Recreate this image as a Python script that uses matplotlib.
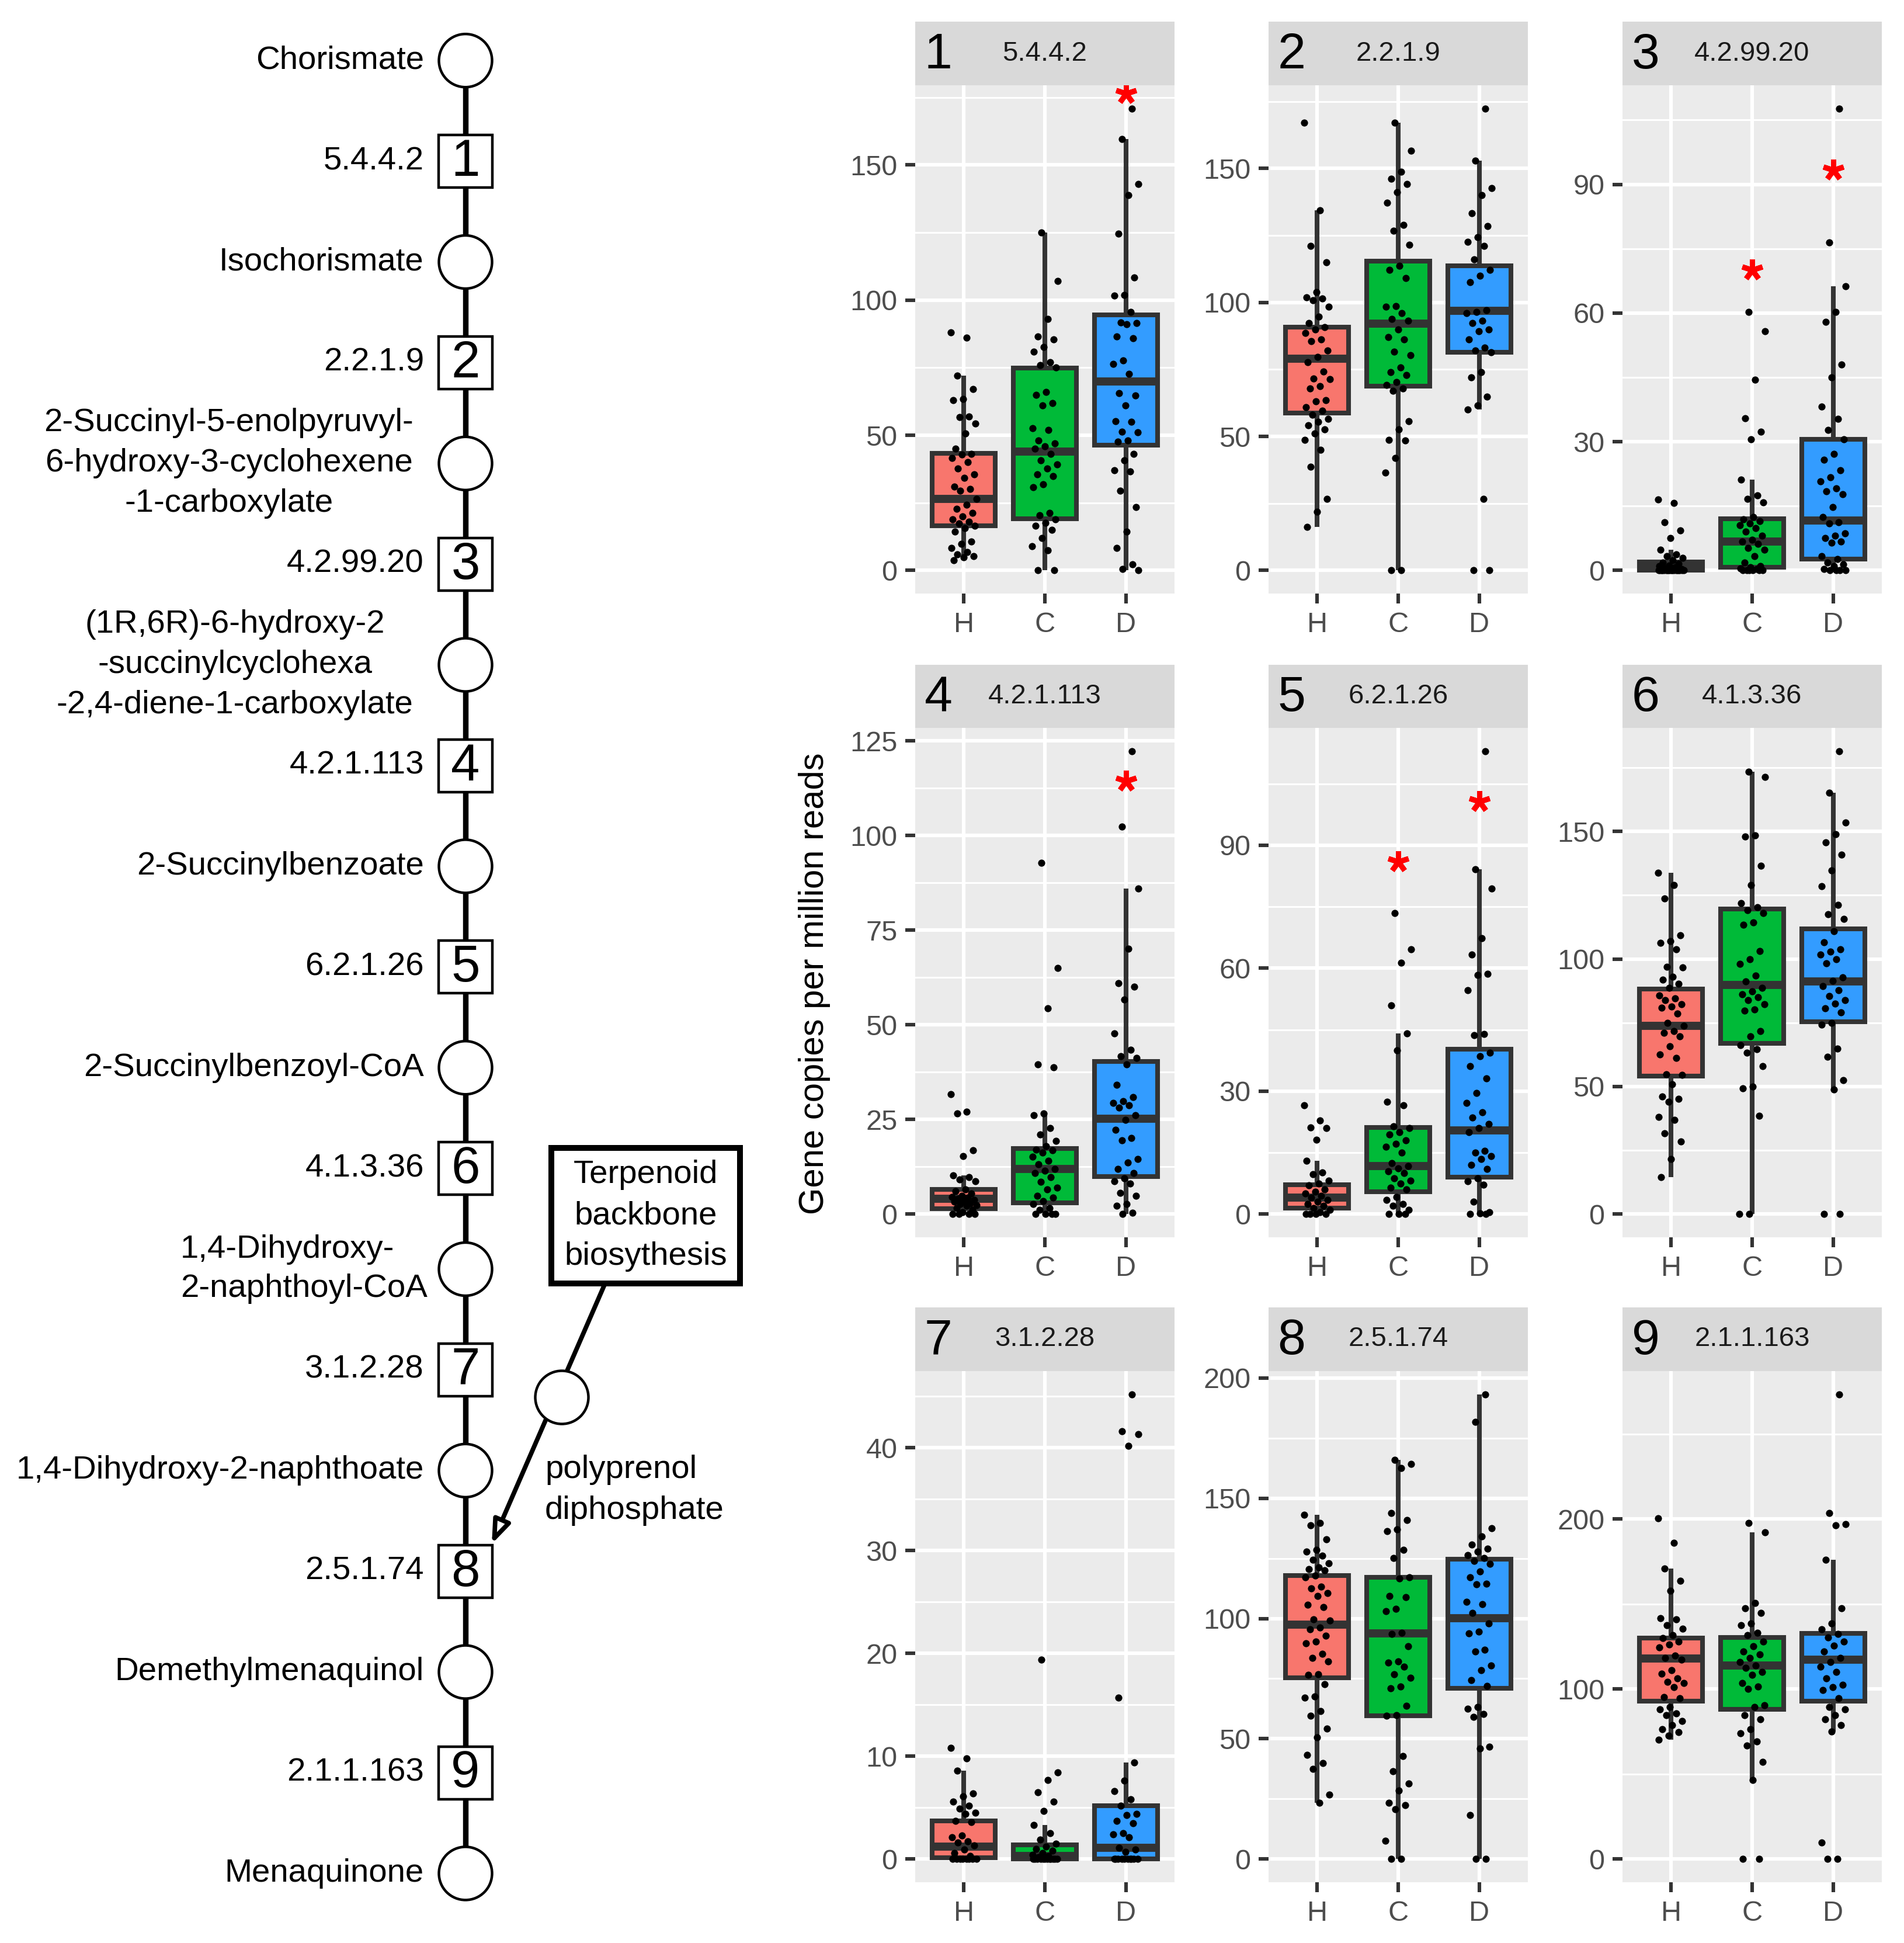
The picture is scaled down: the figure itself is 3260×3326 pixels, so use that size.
import matplotlib
matplotlib.use('Agg')
import matplotlib.pyplot as plt
from matplotlib.patches import Circle, Rectangle, FancyArrowPatch
from matplotlib.ticker import AutoMinorLocator

plt.rcParams['font.family'] = ['Liberation Sans', 'DejaVu Sans']

# ---------------- data ----------------
groups = ['H', 'C', 'D']
group_colors = ['#F8766D', '#00BA38', '#339CFF']

panel_numbers = ['1', '2', '3', '4', '5', '6', '7', '8', '9']
ec_numbers = ['5.4.4.2', '2.2.1.9', '4.2.99.20', '4.2.1.113', '6.2.1.26',
              '4.1.3.36', '3.1.2.28', '2.5.1.74', '2.1.1.163']

compounds = ['Chorismate', 'Isochorismate',
             '2-Succinyl-5-enolpyruvyl-\n6-hydroxy-3-cyclohexene\n-1-carboxylate',
             '(1R,6R)-6-hydroxy-2\n-succinylcyclohexa\n-2,4-diene-1-carboxylate',
             '2-Succinylbenzoate', '2-Succinylbenzoyl-CoA',
             '1,4-Dihydroxy-\n2-naphthoyl-CoA', '1,4-Dihydroxy-2-naphthoate',
             'Demethylmenaquinol', 'Menaquinone']
side_box_text = 'Terpenoid\nbackbone\nbiosythesis'
side_compound = 'polyprenol\ndiphosphate'
y_label = 'Gene copies per million reads'

# y tick values per panel
p1_ticks = [0, 50, 100, 150]
p2_ticks = [0, 50, 100, 150]
p3_ticks = [0, 30, 60, 90]
p4_ticks = [0, 25, 50, 75, 100, 125]
p5_ticks = [0, 30, 60, 90]
p6_ticks = [0, 50, 100, 150]
p7_ticks = [0, 10, 20, 30, 40]
p8_ticks = [0, 50, 100, 150, 200]
p9_ticks = [0, 100, 200]

# points (gene copies per million reads)
p1_H = [88, 86, 72, 67, 63.5, 63, 57, 56.7, 54.4, 50.7, 45, 43, 42.8, 41.6, 40, 37.8, 35.5, 34.3, 31,
        30.2, 29.5, 26.5, 24.2, 22.7, 21.2, 20, 19, 18, 17.4, 16.6, 15.6, 14.4, 10.6, 9.8, 8.3, 6.8, 6,
        5.3, 4.8, 3.8]
p1_C = [125, 107, 93, 86.6, 85.4, 82.7, 81, 77, 76, 75, 66, 65, 62, 61, 52.5, 52, 48, 47, 45.8, 45,
        43, 40.8, 39.3, 37.8, 35.5, 34.8, 31.8, 30.7, 21.2, 20.4, 19, 17.7, 16.6, 15, 12, 9, 7.5, 0, 0]
p1_D = [170.9, 159.5, 142.9, 138.8, 124.5, 108.4, 101.8, 101.6, 95.7, 91.8, 91.5, 91, 86.6, 85.9,
        77.6, 76.4, 72.6, 65.5, 64.7, 61, 55.2, 54.9, 51.4, 51.1, 48, 47.6, 43, 40.8, 37, 36.7, 29.5,
        23.4, 14.4, 8.3, 2.3, 0.5, 0]

p2_H = [167, 134.3, 121, 115, 103.8, 102, 101.5, 100.7, 98.4, 94.6, 92.3, 90.8, 90, 88.5, 86.2, 85.5,
        82, 79.7, 77.8, 74.3, 71.7, 71.4, 68.7, 67.9, 63.6, 63, 61, 59.5, 58, 56.5, 55.4, 54.2, 52.6,
        51.1, 48.8, 45, 38.6, 26.7, 21.8, 16.3]
p2_C = [167, 156.7, 148.8, 146.2, 144.2, 141.2, 137.3, 129, 126.7, 121.6, 113.7, 112.2, 109.1, 98.7,
        98.4, 96.1, 93.8, 93.1, 90, 87, 86.2, 81.6, 80.4, 75.8, 74, 72.8, 70.2, 69.1, 67.9, 67.1, 55.7,
        52.6, 48.8, 48.4, 42, 36.6, 0, 0]
p2_D = [172.4, 153, 142.7, 140.1, 133.2, 128.5, 124.4, 122.5, 121, 116, 112.2, 109.9, 107.6, 97.2,
        96.4, 96.1, 93.1, 92.3, 90, 89.3, 86.2, 83.2, 82, 81.3, 74, 72, 64.9, 61.5, 60, 26.7, 0, 0]

p3_H = [16.5, 15.7, 11.2, 9.3, 7.6, 4.8, 3.8, 3.3, 2.9, 2.4, 1.9, 1.6, 1.2, 1.0, 0.7, 0.5, 0.3,
        0, 0, 0, 0, 0, 0, 0, 0, 0, 0, 0, 0, 0, 0, 0, 0, 0, 0]
p3_C = [60.3, 55.8, 44.4, 35.5, 32.4, 30.5, 21.2, 17.5, 16.7, 15.9, 12.4, 11.9, 11.5, 11, 10.5, 9.8,
        9.1, 8.1, 7.2, 6.7, 6.2, 5.2, 4.8, 3.3, 1.9, 1, 0.7, 0.5, 0.3, 0, 0, 0, 0, 0, 0]
p3_D = [107.7, 76.5, 66.3, 60.3, 57.9, 48, 45, 38.2, 35.3, 32.7, 30.5, 27.2, 25.8, 23.4, 21.7, 20.7,
        19.1, 18.4, 17.7, 14.8, 12.4, 11.2, 11, 8.6, 8.1, 7.6, 6.7, 6.4, 3.3, 2.6, 1.9, 1.4, 1.0, 0.3,
        0, 0, 0, 0]

p4_H = [31.7, 27.1, 26.6, 16.8, 15.4, 10.3, 9.8, 9.2, 8.7, 6.5, 6, 5.4, 4.9, 4.6, 4.3, 4.1, 3.8, 3.5,
        3.3, 2.9, 2.7, 2.4, 2.2, 1.6, 1.1, 0.5, 0, 0, 0, 0]
p4_C = [92.7, 65, 54.4, 39.6, 38.8, 26.6, 26.2, 22.8, 21.1, 19.3, 17.9, 17.1, 16.8, 16.3, 15.2, 14.1,
        13.2, 11.9, 11.4, 10.8, 9.8, 8.5, 7, 6.5, 4.9, 4.3, 3.5, 2.7, 1.6, 1.1, 0, 0, 0, 0]
p4_D = [122.3, 102.4, 86, 70.1, 61, 60, 56.6, 47.7, 43.4, 41.7, 41.2, 39.6, 34.2, 30.9, 29.8, 29.3,
        28.7, 28.2, 26.2, 24.9, 22.2, 20.1, 19.5, 14.6, 13.6, 11.9, 10.8, 9.5, 8.7, 8.1, 5.6, 4.9, 2.7,
        2.2, 0.3, 0]

p5_H = [26.6, 22.8, 21.2, 21, 18.2, 13, 10.2, 9.8, 8.2, 7.5, 7, 6, 5.5, 5, 4.5, 4, 3.5, 3, 2.5, 2,
        1.5, 1, 0.5, 0, 0, 0, 0]
p5_C = [73.4, 64.6, 61.4, 50.9, 44.1, 39.9, 27.4, 26.6, 21.5, 21, 20, 19.5, 18, 17.2, 16.5, 15, 12.5,
        11.8, 11.2, 10.5, 10, 8.8, 8.2, 7.5, 6.5, 6, 4.2, 3.5, 2.5, 2, 1, 0, 0, 0]
p5_D = [113, 84.2, 79.5, 67.3, 63.3, 58.6, 58.3, 54.6, 43.9, 43.6, 39.4, 38.6, 36.1, 33.1, 29.6, 27.1,
        24.8, 23.6, 22, 21, 20, 15.5, 15, 14.2, 13.5, 12, 11, 8.8, 8, 7.2, 3, 0.5, 0.2, 0, 0]

p6_H = [133.9, 129.1, 123.7, 109.2, 107.1, 106.3, 103.9, 97, 96.7, 93.1, 91.9, 90.3, 88.6, 85.8, 84.6,
        83.8, 82.2, 81.4, 80.9, 78.7, 75, 73.9, 71.8, 71, 69.7, 65.8, 62.6, 61.3, 54.9, 54.6, 50.9,
        46.1, 45.3, 44, 38.1, 36.9, 31.6, 28.4, 21.5, 14.5]
p6_C = [173.4, 171.3, 148.4, 148.1, 136.5, 129.1, 122, 120.3, 119.2, 117.9, 114.3, 113.5, 103.1, 99.9,
        98, 93.5, 91.1, 88.6, 87.4, 86.2, 85.1, 83.8, 82.2, 80.3, 79.8, 71.8, 69.7, 66.2, 64.6, 63.3,
        58.1, 50.1, 49.3, 38.5, 0, 0]
p6_D = [181.5, 165.2, 153.4, 148.9, 145.7, 140.8, 134.7, 128.5, 121.2, 117.6, 115.6, 110.8, 106.6,
        103.9, 102.8, 101.8, 99.9, 98.3, 92.7, 91.5, 89.4, 87.8, 85.4, 83.8, 82.5, 80.6, 79, 75, 74.2,
        64.9, 61.7, 52.5, 48.8, 0, 0]

p7_H = [10.8, 9.8, 8.6, 6.4, 6.1, 5.6, 5.2, 4.9, 4.5, 4.4, 3.7, 3.6, 2.3, 2.1, 1.7, 1.6, 1.3, 0.9, 0.6,
        0.3, 0, 0, 0, 0, 0, 0, 0, 0]
p7_C = [19.4, 8.4, 7.7, 6.5, 5.6, 4.7, 3.3, 2.5, 1.9, 1.5, 1.2, 1, 0.8, 0.6, 0.4, 0.3, 0.2,
        0, 0, 0, 0, 0, 0, 0, 0, 0, 0, 0, 0]
p7_D = [45.2, 41.6, 41.3, 40.2, 15.7, 9.4, 7.6, 6.6, 5.8, 5.2, 4.4, 4.3, 3.7, 3.5, 2.5, 2.4, 2.1, 1.1,
        0.9, 0.7, 0, 0, 0, 0, 0, 0, 0, 0, 0, 0]

p8_H = [143.1, 139.7, 138.8, 132.9, 128.6, 127.8, 126.1, 124.4, 123, 121.3, 120.6, 120.1, 117.9, 117.2,
        113.3, 112.5, 110.5, 109.4, 105.7, 104.8, 99.7, 99.2, 96.3, 95.5, 92.9, 90.4, 89.6, 85.3, 83.6,
        82.2, 76.8, 76.5, 72.6, 67.5, 67, 61.5, 59.5, 54.2, 50.5, 43.2, 39.8, 37.4, 26.7, 23.3]
p8_C = [166, 164.3, 162.6, 143.9, 140.9, 137.1, 136.3, 128.6, 125.2, 117.2, 116.7, 109.4, 108.8, 104,
        103.1, 94.1, 93.5, 88.4, 82.2, 81.6, 79.9, 76.8, 75.4, 71.7, 70.9, 63.6, 59.8, 59.5, 42.8, 36.4,
        31.3, 28.4, 23.3, 22.4, 20.7, 7.5, 0, 0]
p8_D = [193.2, 181.8, 137.6, 134.2, 130.8, 129.1, 127.8, 126.4, 125.2, 124, 122.7, 119.6, 117.2, 114.5,
        114.2, 107, 106, 102.3, 98, 94.6, 93.8, 87, 86.2, 80.5, 78.5, 74.3, 72, 63.2, 62.4, 60.2, 59,
        46.6, 45.9, 18.2, 0, 0]

p9_H = [200.5, 186, 170.7, 163.5, 157.9, 141.8, 141.1, 137.5, 135.6, 131.5, 129.8, 127.9, 126, 124.3,
        119.5, 118.3, 117.1, 111.1, 109.1, 106.3, 104.3, 103.4, 101, 95.4, 94.7, 89.4, 88.2, 85.8, 84.6,
        81, 78.6, 76.2, 74.5, 72.6, 70.2]
p9_C = [197.6, 192.3, 150.7, 147.6, 144.7, 138.7, 137.5, 133.2, 131.5, 127.9, 125, 121.9, 120.2, 118.3,
        115.9, 113.9, 112.3, 109.9, 108.2, 103.4, 101.4, 100.2, 90.6, 89.4, 84.6, 82.2, 76.2, 73.8, 69,
        66.6, 57, 46.6, 0, 0]
p9_D = [273.3, 203.6, 196.9, 196.4, 176, 147.6, 138.7, 135.1, 132.2, 130.3, 127.9, 125.5, 121.9, 118.3,
        115.9, 113, 109.9, 106.3, 102.6, 101, 99.5, 94.7, 89.4, 88.2, 84.6, 82.2, 78.6, 75, 9.6, 0, 0]

# box statistics per group (q1, median, q3, lower whisker, upper whisker) for H, C, D
p1_box = [(16.6, 26.5, 43.4, 3.8, 72), (19.2, 43.9, 74.9, 0, 125), (46.4, 69.9, 94.5, 0, 159.5)]
p2_box = [(58.8, 78.9, 90.8, 16.3, 134.3), (68.7, 92, 115.5, 0, 167), (81.3, 96.9, 113.7, 60, 153)]
p3_box = [(0, 0.6, 2.0, 0, 4.8), (0.8, 6.7, 12.1, 0, 21.2), (2.6, 11.7, 30.5, 0, 66.3)]
p4_box = [(1.4, 4.1, 6.5, 0, 10.3), (3, 11.9, 17.3, 0, 26.6), (10, 25.2, 40.3, 0, 86)]
p5_box = [(1.5, 4, 7.2, 0, 13), (5.5, 11.8, 21.2, 0, 44.1), (9, 20.5, 40.3, 0, 84.2)]
p6_box = [(54.1, 73.9, 88.3, 14.5, 133.9), (67, 89.9, 119.5, 0, 173.4), (75.5, 91.1, 111.9, 48.8, 165.2)]
p7_box = [(0.1, 1.2, 3.7, 0, 8.6), (0, 0.3, 1.4, 0, 3.3), (0, 1.1, 5.2, 0, 9.4)]
p8_box = [(75.4, 97.5, 117.9, 23.3, 143.1), (59.5, 93.8, 117.2, 0, 166), (70.9, 100.1, 124.7, 0, 193.2)]
p9_box = [(93, 117.8, 129.8, 70.2, 170.7), (88.2, 113.9, 130.3, 46.6, 192.3), (93, 117.1, 132.7, 75, 176)]

# significance marks: (group index, y value)
p1_sig = [(2, 176.5)]
p3_sig = [(1, 70), (2, 93.3)]
p4_sig = [(2, 114.4)]
p5_sig = [(1, 86), (2, 100.7)]

panels = [
    (p1_H, p1_C, p1_D, p1_box, p1_ticks, p1_sig),
    (p2_H, p2_C, p2_D, p2_box, p2_ticks, []),
    (p3_H, p3_C, p3_D, p3_box, p3_ticks, p3_sig),
    (p4_H, p4_C, p4_D, p4_box, p4_ticks, p4_sig),
    (p5_H, p5_C, p5_D, p5_box, p5_ticks, p5_sig),
    (p6_H, p6_C, p6_D, p6_box, p6_ticks, []),
    (p7_H, p7_C, p7_D, p7_box, p7_ticks, []),
    (p8_H, p8_C, p8_D, p8_box, p8_ticks, []),
    (p9_H, p9_C, p9_D, p9_box, p9_ticks, []),
]

# ---------------- figure ----------------
W, H = 3260, 3326
DPI = 200
fig = plt.figure(figsize=(W / DPI, H / DPI), dpi=DPI)

# overlay axes in pixel coordinates for the pathway diagram
ax0 = fig.add_axes([0, 0, 1, 1])
ax0.set_xlim(0, W)
ax0.set_ylim(H, 0)
ax0.axis('off')

LINE_X = 797
Y0, DY = 103.7, 172.4
n_nodes = 2 * len(ec_numbers) + 1
ys = [Y0 + DY * k for k in range(n_nodes)]

ax0.plot([LINE_X, LINE_X], [ys[0], ys[-1]], color='black', lw=3.4, zorder=1,
         solid_capstyle='butt')

FS = 20.3
for j, name in enumerate(compounds):
    y = ys[2 * j]
    ax0.add_patch(Circle((LINE_X, y), 45.5, fc='white', ec='black', lw=1.6, zorder=3))
    if j == 2:
        ax0.text(392, y, name, ha='center', va='center', multialignment='center',
                 fontsize=FS, linespacing=1.42, zorder=5)
    elif j == 3:
        ax0.text(402, y, name, ha='center', va='center', multialignment='center',
                 fontsize=FS, linespacing=1.42, zorder=5)
    elif j == 6:
        ax0.text(309, y, name, ha='left', va='center', multialignment='left',
                 fontsize=FS, linespacing=1.38, zorder=5)
    else:
        ax0.text(726, y, name, ha='right', va='center', fontsize=FS, zorder=5)

for j, ec in enumerate(ec_numbers):
    y = ys[2 * j + 1]
    ax0.add_patch(Rectangle((LINE_X - 46, y - 45), 92, 90, fc='white', ec='black', lw=1.6,
                            zorder=3))
    ax0.text(LINE_X, y + 2, panel_numbers[j], ha='center', va='center', fontsize=32, zorder=5)
    ax0.text(726, y, ec, ha='right', va='center', fontsize=FS, zorder=5)

# side branch: terpenoid box -> polyprenol diphosphate -> enzyme 8
ax0.add_patch(Rectangle((944, 1965), 323, 232, fc='white', ec='black', lw=3.6, zorder=3))
ax0.text(1105.5, 2081, side_box_text, ha='center', va='center', multialignment='center',
         fontsize=FS, linespacing=1.45, zorder=5)
arrow = FancyArrowPatch((1036, 2197), (842, 2643),
                        arrowstyle='-|>,head_length=12,head_width=4.5',
                        mutation_scale=1, fc='white', ec='black', lw=2.8,
                        shrinkA=0, shrinkB=0, zorder=2)
ax0.add_patch(arrow)
ax0.add_patch(Circle((962, 2392), 45.5, fc='white', ec='black', lw=1.6, zorder=4))
ax0.text(933, 2551, side_compound, ha='left', va='center', multialignment='left',
         fontsize=FS, linespacing=1.45, zorder=5)

# y axis label
fig.text(1394 / W, 1 - 1684 / H, y_label, rotation=90, ha='center', va='center',
         fontsize=21.5, color='black')

# ---------------- boxplot panels ----------------
col_left = [1567, 2172, 2778]
panel_w = 444
strip_top = [37, 1138, 2238]
strip_bot = [146, 1246, 2347]
panel_bot = [1016, 2118, 3222]

positions = [1, 2, 3]
GOLD = 0.6180339887

for i, (dH, dC, dD, box, ticks, sig) in enumerate(panels):
    r, c = divmod(i, 3)
    l = col_left[c]
    ax = fig.add_axes([l / W, 1 - panel_bot[r] / H, panel_w / W,
                       (panel_bot[r] - strip_bot[r]) / H])
    sax = fig.add_axes([l / W, 1 - strip_bot[r] / H, panel_w / W,
                        (strip_bot[r] - strip_top[r]) / H])

    ax.set_facecolor('#EBEBEB')
    for s in ax.spines.values():
        s.set_visible(False)
    ax.set_axisbelow(True)

    data = [dH, dC, dD]
    allv = dH + dC + dD
    lo, hi = min(allv), max(allv)
    rng = hi - lo
    ax.set_xlim(0.4, 3.6)
    ax.set_ylim(lo - 0.05 * rng, hi + 0.05 * rng)
    ax.set_yticks(ticks)
    ax.set_yticklabels([str(t) for t in ticks])
    ax.yaxis.set_minor_locator(AutoMinorLocator(2))
    ax.set_xticks(positions)
    ax.set_xticklabels(groups)
    ax.grid(which='major', color='white', lw=2.2)
    ax.grid(which='minor', axis='y', color='white', lw=1.1)
    ax.tick_params(which='minor', length=0, width=0)
    ax.tick_params(which='major', length=6, width=2.2, color='#333333',
                   labelcolor='#4D4D4D', labelsize=17.5, pad=5)

    stats = []
    for (q1, med, q3, wlo, whi) in box:
        stats.append(dict(q1=q1, med=med, q3=q3, whislo=wlo, whishi=whi, fliers=[]))
    bp = ax.bxp(stats, positions=positions, widths=0.78, patch_artist=True,
                showcaps=False, showfliers=False, manage_ticks=False,
                boxprops=dict(edgecolor='#333333', linewidth=2.9),
                whiskerprops=dict(color='#333333', linewidth=2.9, solid_capstyle='butt'),
                medianprops=dict(color='#333333', linewidth=5.0, solid_capstyle='butt'),
                zorder=2)
    for patch, col in zip(bp['boxes'], group_colors):
        patch.set_facecolor(col)

    for g, vals in enumerate(data):
        xs = [positions[g] + ((k * GOLD + 0.37 * g) % 1.0 - 0.5) * 0.32
              for k in range(len(vals))]
        ax.plot(xs, vals, 'o', color='black', ms=4.4, mew=0, ls='none', zorder=3)

    for g, yv in sig:
        ax.plot([positions[g]], [yv], marker=(5, 2, 0), color='red', ms=13, mew=3.2,
                ls='none', zorder=4)

    sax.set_facecolor('#D9D9D9')
    sax.set_xticks([])
    sax.set_yticks([])
    for s in sax.spines.values():
        s.set_visible(False)
    sax.text(0.035, 0.47, panel_numbers[i], transform=sax.transAxes, ha='left',
             va='center', fontsize=31, color='black')
    sax.text(0.5, 0.5, ec_numbers[i], transform=sax.transAxes, ha='center',
             va='center', fontsize=17, color='#1A1A1A')

fig.savefig('out.png', dpi=DPI, facecolor='white')
